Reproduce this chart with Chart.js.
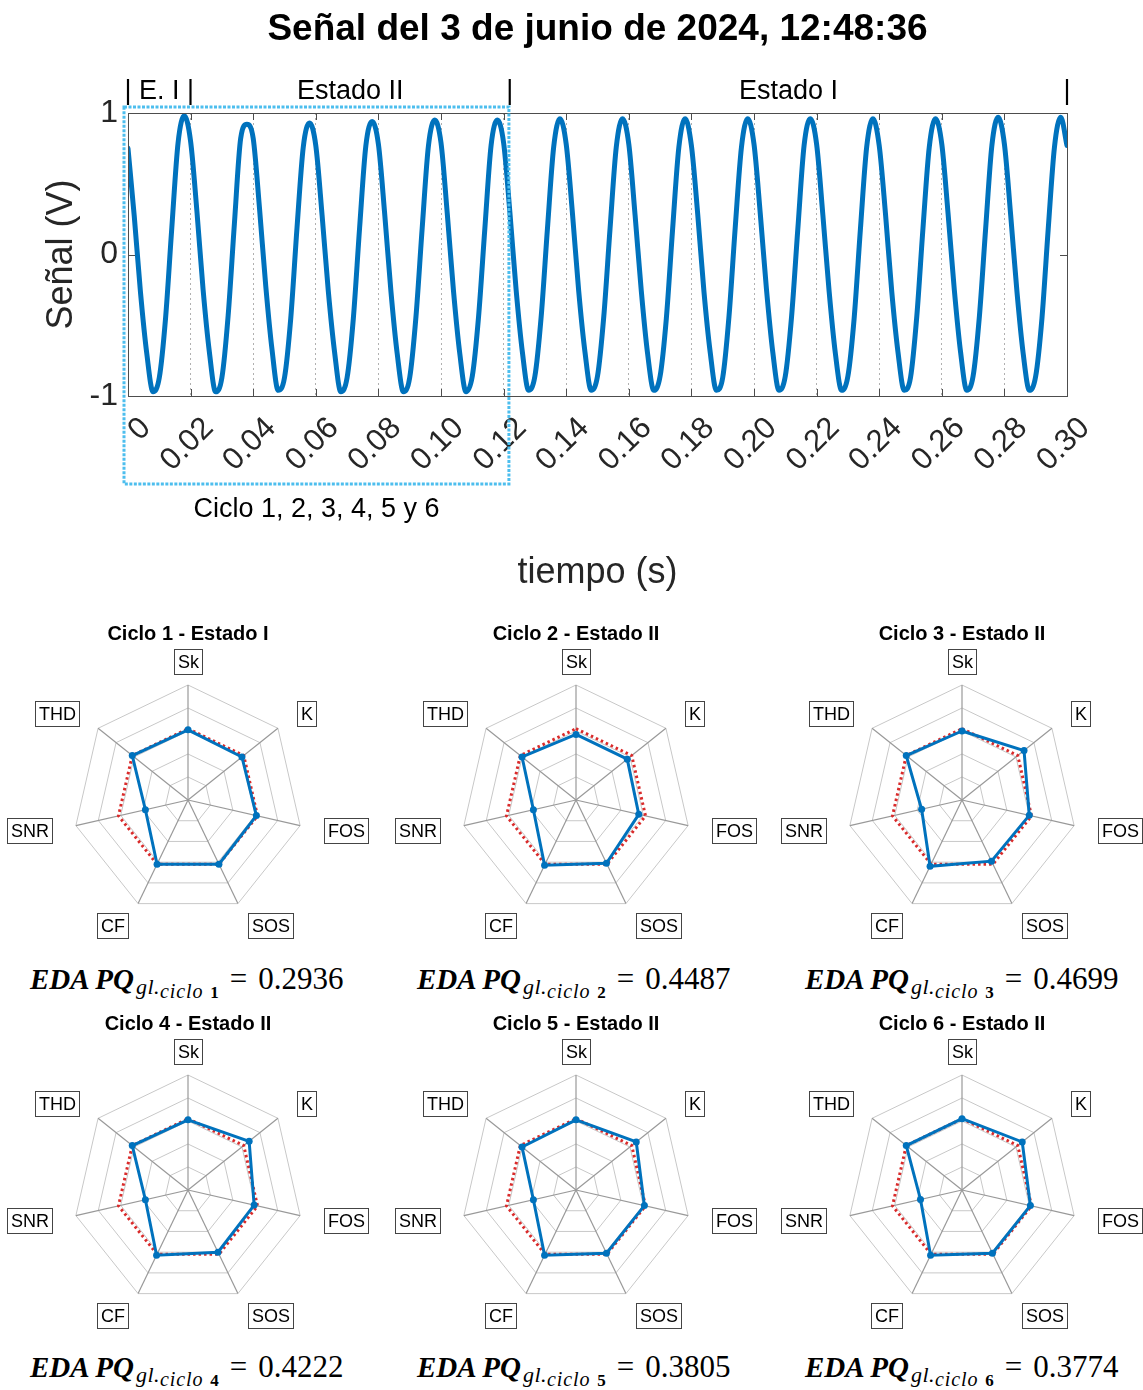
<!doctype html>
<html lang="es">
<head>
<meta charset="utf-8">
<meta name="viewport" content="width=device-width, initial-scale=1">
<title>Señal del 3 de junio de 2024, 12:48:36</title>
<style>
  * { margin: 0; padding: 0; }
  body { background: #fff; }
  .lienzo { position: relative; width: 1143px; height: 1390px; overflow: hidden; background: #fff; }
  .lienzo canvas { position: absolute; }
  .eda { position: absolute; font-family: "Liberation Serif", "DejaVu Serif", serif; font-size: 29px; line-height: 1; color: #000; white-space: nowrap; }
  .eda i { font-weight: bold; }
  .eda sub { line-height: 0; font-style: italic; }
  .eda .s1 { font-size: 22px; vertical-align: -5px; letter-spacing: 0.5px; padding-left: 2px; }
  .eda .s2 { font-size: 20px; vertical-align: -4px; letter-spacing: 0.9px; }
  .eda .s2 b { font-style: normal; font-size: 17px; padding-left: 1px; }
  .eda .ig { font-size: 31px; margin: 0 11px 0 10px; }
  .eda .num { font-size: 31px; }
</style>
</head>
<body>
<div class="lienzo" id="lienzo">
  <canvas id="senal" width="1143" height="600" style="left:0;top:0"></canvas>
</div>
<script src="https://cdn.jsdelivr.net/npm/chart.js"></script>
<script>
Chart.defaults.font.family = '"Liberation Sans", Arial, Helvetica, sans-serif';
Chart.defaults.color = '#262626';

const azul = '#0072BD';
const rojo = '#D92B2B';
const celeste = '#4DBEEE';

const tituloSenal = 'Señal del 3 de junio de 2024, 12:48:36';

// señal muestreada cada 2 ms, de 0 a 0.30 s (una fila por ciclo)
const pasoMuestreo = 0.002;
const senal = [
  0.75, 0.27, -0.27, -0.70, -0.97, -0.87, -0.45, 0.19, 0.79, 0.98,
  0.80, 0.31, -0.25, -0.69, -0.97, -0.87, -0.43, 0.22, 0.82, 0.92,
  0.82, 0.33, -0.22, -0.67, -0.96, -0.87, -0.45, 0.19, 0.76, 0.93,
  0.77, 0.28, -0.26, -0.69, -0.97, -0.87, -0.45, 0.19, 0.77, 0.94,
  0.78, 0.29, -0.26, -0.70, -0.97, -0.87, -0.44, 0.19, 0.77, 0.95,
  0.79, 0.29, -0.26, -0.70, -0.97, -0.86, -0.44, 0.18, 0.77, 0.95,
  0.79, 0.30, -0.25, -0.69, -0.96, -0.86, -0.44, 0.18, 0.76, 0.96,
  0.78, 0.29, -0.26, -0.69, -0.96, -0.86, -0.44, 0.18, 0.76, 0.96,
  0.78, 0.28, -0.26, -0.70, -0.96, -0.86, -0.45, 0.18, 0.76, 0.96,
  0.77, 0.29, -0.26, -0.69, -0.96, -0.87, -0.44, 0.19, 0.76, 0.96,
  0.78, 0.29, -0.25, -0.69, -0.96, -0.86, -0.44, 0.18, 0.77, 0.96,
  0.78, 0.28, -0.26, -0.70, -0.96, -0.86, -0.45, 0.18, 0.76, 0.96,
  0.77, 0.29, -0.26, -0.69, -0.96, -0.87, -0.44, 0.19, 0.76, 0.96,
  0.78, 0.29, -0.25, -0.69, -0.96, -0.86, -0.44, 0.18, 0.77, 0.97,
  0.78, 0.28, -0.26, -0.70, -0.96, -0.86, -0.45, 0.18, 0.76, 0.97,
  0.77
];

// cambios de estado (s) y nombres de cada tramo
const cambiosEstado = [0, 0.02, 0.122, 0.30];
const nombresEstado = ['E. I', 'Estado II', 'Estado I'];
const ventanaCiclos = [0, 0.1217];

// indicadores de calidad por ciclo
const indicadores = ['Sk', 'K', 'FOS', 'SOS', 'CF', 'SNR', 'THD'];
const titulosCiclo = ['Ciclo 1 - Estado I', 'Ciclo 2 - Estado II', 'Ciclo 3 - Estado II',
                      'Ciclo 4 - Estado II', 'Ciclo 5 - Estado II', 'Ciclo 6 - Estado II'];
const ciclo1 = [0.61, 0.60, 0.61, 0.62, 0.62, 0.38, 0.62];
const ciclo2 = [0.57, 0.57, 0.56, 0.61, 0.63, 0.38, 0.60];
const ciclo3 = [0.60, 0.69, 0.60, 0.59, 0.64, 0.36, 0.62];
const ciclo4 = [0.61, 0.68, 0.59, 0.60, 0.63, 0.38, 0.62];
const ciclo5 = [0.61, 0.67, 0.61, 0.61, 0.63, 0.38, 0.60];
const ciclo6 = [0.62, 0.67, 0.61, 0.61, 0.63, 0.37, 0.62];
const referencia = [0.62, 0.62, 0.62, 0.62, 0.62, 0.62, 0.62];
const edaPQ = ['0.2936', '0.4487', '0.4699', '0.4222', '0.3805', '0.3774'];

const valoresCiclo = [ciclo1, ciclo2, ciclo3, ciclo4, ciclo5, ciclo6];

// ---------- señal ----------
const puntosSenal = senal.map((v, i) => ({ x: +(i * pasoMuestreo).toFixed(3), y: v }));

const marcoSenal = {
  id: 'marcoSenal',
  afterDraw(chart) {
    const { ctx, chartArea: a, scales: { x, y } } = chart;
    ctx.save();
    ctx.strokeStyle = '#4d4d4d';
    ctx.lineWidth = 1;
    ctx.strokeRect(a.left + 0.5, a.top + 0.5, a.right - a.left, a.bottom - a.top);
    ctx.beginPath();
    x.ticks.forEach(t => {
      const px = Math.round(x.getPixelForValue(t.value)) + 0.5;
      ctx.moveTo(px, a.bottom); ctx.lineTo(px, a.bottom - 7);
      ctx.moveTo(px, a.top); ctx.lineTo(px, a.top + 7);
    });
    y.ticks.forEach(t => {
      const py = Math.round(y.getPixelForValue(t.value)) + 0.5;
      ctx.moveTo(a.left, py); ctx.lineTo(a.left + 7, py);
      ctx.moveTo(a.right, py); ctx.lineTo(a.right - 7, py);
    });
    ctx.stroke();

    // título centrado sobre los ejes
    ctx.fillStyle = '#000';
    ctx.textAlign = 'center';
    ctx.textBaseline = 'middle';
    ctx.font = 'bold 37px "Liberation Sans", Arial, sans-serif';
    ctx.fillText(tituloSenal, (a.left + a.right) / 2, 30);

    // etiquetas de estado sobre el gráfico
    ctx.font = '27px "Liberation Sans", Arial, sans-serif';
    const yEstado = a.top - 21;
    cambiosEstado.forEach(t => ctx.fillText('|', x.getPixelForValue(t), yEstado));
    nombresEstado.forEach((n, i) => {
      const xc = (x.getPixelForValue(cambiosEstado[i]) + x.getPixelForValue(cambiosEstado[i + 1])) / 2;
      ctx.fillText(n, xc, yEstado);
    });

    // ventana de los ciclos 1 a 6
    const x1 = x.getPixelForValue(ventanaCiclos[0]) - 4;
    const x2 = x.getPixelForValue(ventanaCiclos[1]);
    const y1 = a.top - 6, y2 = a.bottom + 88;
    ctx.strokeStyle = celeste;
    ctx.lineWidth = 3;
    ctx.setLineDash([3, 1.5]);
    ctx.strokeRect(x1, y1, x2 - x1, y2 - y1);
    ctx.setLineDash([]);
    ctx.fillText('Ciclo 1, 2, 3, 4, 5 y 6', (x1 + x2) / 2, a.bottom + 114);
    ctx.restore();
  }
};

new Chart(document.getElementById('senal'), {
  type: 'line',
  data: {
    datasets: [{
      label: 'Señal',
      data: puntosSenal,
      borderColor: azul,
      borderWidth: 5,
      pointRadius: 0,
      cubicInterpolationMode: 'monotone',
      borderJoinStyle: 'round',
      borderCapStyle: 'round'
    }]
  },
  options: {
    responsive: false,
    animation: false,
    layout: { padding: { left: 0, right: 76, top: 113, bottom: 0 } },
    plugins: {
      legend: { display: false },
      tooltip: { enabled: false },
      title: { display: false }
    },
    scales: {
      x: {
        type: 'linear',
        min: 0,
        max: 0.30,
        afterFit: s => { s.height = 204; },
        ticks: {
          stepSize: 0.02,
          autoSkip: false,
          minRotation: 45,
          maxRotation: 45,
          labelOffset: 18,
          padding: 14,
          font: { size: 31 },
          callback: v => (v === 0 ? '0' : v.toFixed(2))
        },
        grid: { color: '#b0b0b0', lineWidth: 1, drawTicks: false },
        border: { display: true, color: '#4d4d4d', dash: [2, 3] },
        title: { display: true, text: 'tiempo (s)', font: { size: 36 }, padding: { top: 0, bottom: 5 } }
      },
      y: {
        min: -1,
        max: 1,
        afterFit: s => { s.width = 128; },
        ticks: { stepSize: 1, padding: 10, font: { size: 32 } },
        grid: { display: false, drawTicks: false },
        border: { display: true, color: '#4d4d4d' },
        title: { display: true, text: 'Señal (V)', font: { size: 36 }, padding: { top: 40, bottom: 0 } }
      }
    }
  },
  plugins: [marcoSenal]
});

// ---------- radares ----------
// etiquetas con marco: ancla a R + 24 px, alineadas hacia fuera
const etiquetasConMarco = {
  id: 'etiquetasConMarco',
  afterDraw(chart) {
    const r = chart.scales.r, ctx = chart.ctx;
    ctx.save();
    ctx.font = '18px "Liberation Sans", Arial, sans-serif';
    ctx.textAlign = 'center';
    ctx.textBaseline = 'middle';
    chart.data.labels.forEach((txt, i) => {
      const w = Math.round(ctx.measureText(txt).width + 7), h = 25;
      const p = r.getPointPosition(i, r.drawingArea + 24);
      const c = Math.cos(p.angle);
      let bx = p.x - w / 2;
      if (c > 0.05) bx = p.x;
      else if (c < -0.05) bx = p.x - w;
      bx = Math.round(bx) + 0.5;
      const by = Math.round(p.y - h / 2) + 0.5;
      ctx.fillStyle = '#fff';
      ctx.fillRect(bx, by, w, h);
      ctx.strokeStyle = '#444';
      ctx.lineWidth = 1;
      ctx.strokeRect(bx, by, w, h);
      ctx.fillStyle = '#000';
      ctx.fillText(txt, bx + w / 2, by + h / 2 + 1);
    });
    ctx.restore();
  }
};

const lienzo = document.getElementById('lienzo');
const centrosX = [188, 576, 962];
const centrosY = [800, 1190];
const inicioFormula = [30, 417, 805];
const arribaFormula = [963, 1351];

valoresCiclo.forEach((valores, k) => {
  const col = k % 3, fila = Math.floor(k / 3);
  const cv = document.createElement('canvas');
  cv.width = 380;
  cv.height = 340;
  cv.style.left = (centrosX[col] - 190) + 'px';
  cv.style.top = (centrosY[fila] - 185) + 'px';
  lienzo.appendChild(cv);

  new Chart(cv, {
    type: 'radar',
    data: {
      labels: indicadores,
      datasets: [{
        label: titulosCiclo[k],
        data: valores,
        borderColor: azul,
        backgroundColor: azul,
        borderWidth: 3,
        pointRadius: 3.5,
        pointBackgroundColor: azul,
        pointBorderWidth: 0,
        fill: false,
        order: 0
      }, {
        label: 'Referencia',
        data: referencia,
        borderColor: rojo,
        borderWidth: 3,
        borderDash: [2.5, 3],
        pointRadius: 0,
        fill: false,
        order: 1
      }]
    },
    options: {
      responsive: false,
      animation: false,
      layout: { padding: { left: 75, right: 75, top: 0, bottom: 40 } },
      plugins: {
        legend: { display: false },
        tooltip: { enabled: false },
        title: {
          display: true,
          text: titulosCiclo[k],
          color: '#000',
          font: { size: 20, weight: 'bold' },
          padding: { top: 7, bottom: 39 }
        }
      },
      scales: {
        r: {
          min: 0,
          max: 1,
          ticks: { display: false, stepSize: 0.2 },
          grid: { color: '#c8c8c8', lineWidth: 1 },
          angleLines: { color: '#999', lineWidth: 1.2 },
          pointLabels: { display: false }
        }
      }
    },
    plugins: [etiquetasConMarco]
  });

  const f = document.createElement('div');
  f.className = 'eda';
  f.style.left = inicioFormula[col] + 'px';
  f.style.top = arribaFormula[fila] + 'px';
  f.innerHTML = '<i>EDA PQ</i><sub class="s1">gl.<sub class="s2">ciclo <b>' + (k + 1) + '</b></sub></sub>' +
                '<span class="ig">=</span><span class="num">' + edaPQ[k] + '</span>';
  lienzo.appendChild(f);
});
</script>
</body>
</html>
